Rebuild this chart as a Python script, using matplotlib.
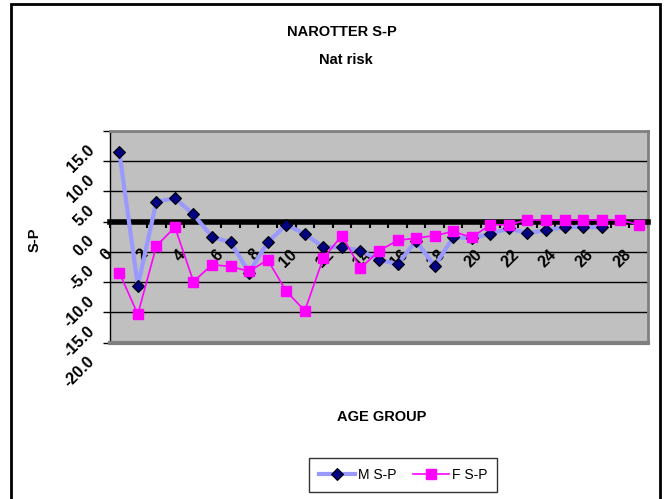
import numpy as np
import matplotlib
matplotlib.use('Agg')
import matplotlib.pyplot as plt
import matplotlib.transforms as mtransforms
from matplotlib.patches import Rectangle

plt.rcParams['font.family'] = ['Liberation Sans', 'DejaVu Sans']

# values
age_groups = list(range(29))
ms_p = [11.6, -10.6, 3.3, 3.9, 1.2, -2.5, -3.4, -8.4, -3.4, -0.5, -2.0, -4.2, -4.2,
        -4.8, -6.3, -7.0, -3.2, -7.3, -2.6, -2.7, -2.0, -1.1, -1.9, -1.4, -0.9, -0.9, -0.9]
fs_p = [-8.4, -15.3, -4.0, -0.9, -9.9, -7.1, -7.4, -8.2, -6.3, -11.5, -14.7, -6.0, -2.3,
        -7.7, -4.8, -3.1, -2.7, -2.3, -1.6, -2.6, -0.5, -0.5, 0.3, 0.3, 0.3, 0.3, 0.3, 0.3, -0.5]
y_ticks = [-20, -15, -10, -5, 0, 5, 10, 15]
x_ticks = list(range(0, 29, 2))

fig = plt.figure(figsize=(6.65, 4.99), dpi=100)
ax = fig.add_axes([110/665, 1 - 342.7/499, 538/665, 211.7/499])
ax.set_facecolor('#C0C0C0')

ax.plot(age_groups[:len(ms_p)], ms_p, color='#9999FF', lw=3, marker='D', ms=6.5,
        mfc='#000080', mec='black', mew=0.8, label='M S-P', zorder=4)
ax.plot(age_groups, fs_p, color='#FF00FF', lw=1.2, marker='s', ms=7,
        mfc='#FF00FF', mec='#FF00FF', label='F S-P', zorder=5)

ax.set_xlim(-0.5, 28.5)
ax.set_ylim(-20, 15)
ax.set_yticks(y_ticks)
ax.set_yticklabels(['%.1f' % v for v in y_ticks], rotation=45, ha='right', va='top',
                   fontsize=11.5, fontweight='bold')
ax.grid(axis='y', color='black', lw=1)
ax.set_axisbelow(True)

# category axis crosses at zero
ax.spines['bottom'].set_position(('data', 0))
ax.spines['bottom'].set_linewidth(4)
ax.spines['bottom'].set_zorder(3)
ax.spines['left'].set_color('black')
ax.spines['left'].set_linewidth(1)
for s in ['top', 'right']:
    ax.spines[s].set_color('#808080')
    ax.spines[s].set_linewidth(2)
ax.axhline(-20, color='#808080', lw=3, clip_on=False, zorder=3)

ax.set_xticks(x_ticks)
ax.set_xticklabels([str(v) for v in x_ticks], rotation=45, ha='right', va='top',
                   fontsize=11.5, fontweight='bold')
ax.set_xticks(np.arange(-0.5, 29, 1), minor=True)
ax.tick_params(axis='x', which='major', length=0, pad=18)
ax.tick_params(axis='x', which='minor', length=4, width=1.5, direction='out', color='black')
ax.tick_params(axis='y', length=5, width=1, direction='out', pad=4)

shift_x = mtransforms.ScaledTranslation(-5/100, 0, fig.dpi_scale_trans)
for lab in ax.get_xticklabels():
    lab.set_transform(lab.get_transform() + shift_x)
shift_y = mtransforms.ScaledTranslation(0, -11/100, fig.dpi_scale_trans)
for lab in ax.get_yticklabels():
    lab.set_transform(lab.get_transform() + shift_y)

fig.text(342/665, 1 - 32/499, 'NAROTTER S-P', ha='center', va='center',
         fontsize=10.5, fontweight='bold')
fig.text(346/665, 1 - 60/499, 'Nat risk', ha='center', va='center',
         fontsize=10.5, fontweight='bold')
fig.text(35/665, 1 - 240/499, 'S-P', ha='center', va='center', rotation=90,
         fontsize=10.5, fontweight='bold')
fig.text(382/665, 1 - 417/499, 'AGE GROUP', ha='center', va='center',
         fontsize=10.5, fontweight='bold')

leg = fig.legend(loc='center', bbox_to_anchor=(403/665, 1 - 475/499), ncol=2,
                 fontsize=10, frameon=True, fancybox=False, edgecolor='black',
                 handlelength=2.6, handletextpad=0.2, columnspacing=1.2, borderpad=0.7)
leg.get_frame().set_linewidth(1)

# chart outer border
fig.patches.append(Rectangle((11/665, -0.1), 649/665, 1.1 - 4/499, transform=fig.transFigure,
                             fill=False, edgecolor='black', lw=2))

fig.savefig('out.png', dpi=100)
